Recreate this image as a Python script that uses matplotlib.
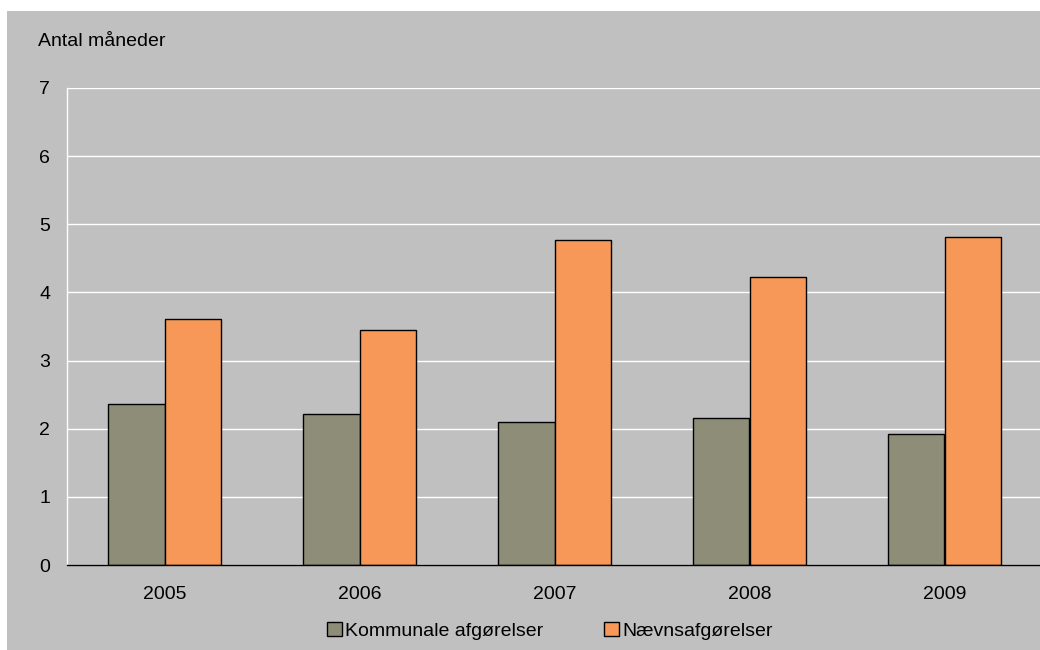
import matplotlib
matplotlib.use("Agg")
import matplotlib.pyplot as plt
from matplotlib.patches import Rectangle
import numpy as np

years = ["2005", "2006", "2007", "2008", "2009"]
kommunale = [2.36, 2.22, 2.10, 2.16, 1.92]
naevn = [3.61, 3.45, 4.77, 4.23, 4.81]
series_names = ["Kommunale afgørelser", "Nævnsafgørelser"]
yticks = [0, 1, 2, 3, 4, 5, 6, 7]

plt.rcParams['font.family'] = ['Liberation Sans', 'DejaVu Sans']
FS = 14

W, H = 1040, 650
fig = plt.figure(figsize=(W/100, H/100), dpi=100)
fig.patch.set_facecolor('white')
bg = Rectangle((7/W, 0), 1 - 7/W, (H - 11)/H, transform=fig.transFigure,
               facecolor='#C0C0C0', edgecolor='none', zorder=-10)
fig.patches.append(bg)

ax = fig.add_axes([67/W, 1 - 565/H, 975/W, (565 - 88)/H])
ax.set_zorder(1)
ax.patch.set_visible(False)

x = np.arange(len(years))
bw = 0.288
ax.bar(x - bw/2, kommunale, bw, color='#8E8E78', edgecolor='black', linewidth=1,
       label=series_names[0], zorder=3)
ax.bar(x + bw/2, naevn, bw, color='#F79858', edgecolor='black', linewidth=1,
       label=series_names[1], zorder=3)

ax.set_xlim(-0.5, len(years) - 0.5)
ax.set_ylim(0, 7)
ax.set_yticks(yticks)
ax.set_yticklabels([str(v) for v in yticks], fontsize=FS)
ax.set_xticks(x)
ax.set_xticklabels(years, fontsize=FS)
ax.tick_params(axis='both', length=0, colors='black')
ax.tick_params(axis='y', pad=12)
ax.tick_params(axis='x', pad=15)
ax.yaxis.grid(True, color='white', linewidth=1, zorder=1)
ax.set_axisbelow(True)
for s in ['top', 'right']:
    ax.spines[s].set_visible(False)
ax.spines['left'].set_color('white')
ax.spines['left'].set_linewidth(1)
ax.spines['bottom'].set_color('black')
ax.spines['bottom'].set_linewidth(1)
ax.spines['bottom'].set_zorder(4)

fig.text(38/W, 1 - 42/H, "Antal måneder", fontsize=FS, ha='left', va='center')

leg = fig.legend(loc='center', bbox_to_anchor=(550/W, 1 - 631/H), ncol=2,
                 frameon=False, fontsize=FS, handlelength=0.75, handleheight=0.75,
                 handletextpad=0.2, columnspacing=3.1)

fig.savefig("out.png", dpi=100)
